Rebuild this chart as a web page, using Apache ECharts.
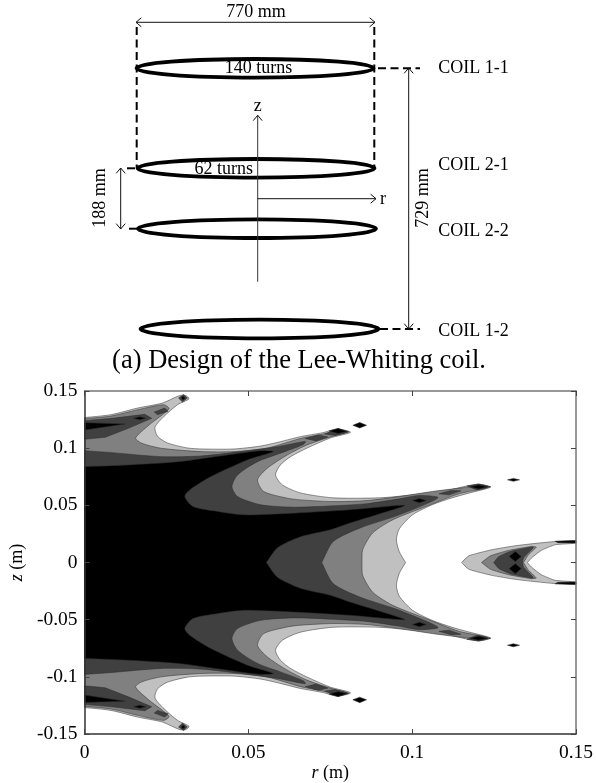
<!DOCTYPE html>
<html>
<head>
<meta charset="utf-8">
<style>html,body{margin:0;padding:0;background:#fff}#c{width:596px;height:783px}</style>
<script src="https://cdn.jsdelivr.net/npm/echarts@6/dist/echarts.min.js"></script>
</head>
<body>
<div id="c"></div>
<script>
// ---- contour plot: outlines of the upper half (z >= 0), values in metres [r, z]
var light_main = [[-.004,.1262],[0,.1268],[.0081,.1293],[.0162,.1351],[.0238,.1395],[.0289,.1459],[.0308,.1462],[.0319,.1432],[.0284,.1380],[.0243,.1279],[.0215,.1183],[.0223,.1104],[.0253,.1046],[.0314,.1002],[.0359,.0993],[.0456,.0993],[.0538,.1019],[.0598,.1057],[.0659,.1101],[.0728,.1136],[.0771,.1168],[.0812,.1139],[.0750,.1089],[.0680,.1002],[.0629,.0926],[.0598,.0854],[.0583,.0766],[.0604,.0679],[.0659,.0609],[.0759,.0566],[.0901,.0566],[.1001,.0592],[.1104,.0629],[.1173,.0673],[.1213,.0682],[.1239,.0659],[.1173,.0607],[.1122,.0566],[.1061,.0505],[.1001,.0417],[.0961,.0295],[.0952,.0199],[.0961,.0094],[.0980,0]];
var mid_main = [[-.004,.1252],[0,.1258],[.0081,.1281],[.0162,.1336],[.0241,.1380],[.0258,.1345],[.0198,.1205],[.0156,.1089],[.0175,.1043],[.0235,.0999],[.0356,.0970],[.0456,.0970],[.0559,.1002],[.0659,.1085],[.0728,.1124],[.0780,.1159],[.0804,.1142],[.0750,.1098],[.0679,.1028],[.0619,.0941],[.0558,.0825],[.0528,.0723],[.0547,.0621],[.0619,.0563],[.0659,.0548],[.0759,.0533],[.0862,.0542],[.0961,.0577],[.1061,.0621],[.1152,.0653],[.1213,.0670],[.1228,.0653],[.1143,.0601],[.1042,.0490],[.0941,.0374],[.0880,.0260],[.0849,.0112],[.0847,0]];
var dark_main = [[-.004,.0985],[0,.0978],[.0084,.0961],[.0235,.0926],[.0356,.0932],[.0477,.0970],[.0588,.1013],[.0674,.1059],[.0668,.1033],[.0598,.0956],[.0528,.0882],[.0467,.0766],[.0450,.0664],[.0467,.0577],[.0538,.0505],[.0638,.0484],[.0759,.0496],[.0862,.0515],[.0961,.0557],[.1022,.0587],[.1079,.0566],[.0961,.0417],[.0840,.0301],[.0759,.0184],[.0724,0]];
var black_main = [[-.004,.0835],[0,.0839],[.0134,.0854],[.0286,.0882],[.0437,.0941],[.0538,.0978],[.0577,.0970],[.0497,.0897],[.0386,.0752],[.0321,.0635],[.0306,.0577],[.0331,.0490],[.0407,.0446],[.0487,.0417],[.0638,.0432],[.0810,.0461],[.0977,.0500],[.0931,.0452],[.0810,.0345],[.0750,.0286],[.0659,.0225],[.0589,.0129],[.0555,0]];
var light_island = [[.1151,0],[.1173,.0059],[.1243,.0112],[.1315,.0147],[.1385,.0170],[.1436,.0184],[.15,.0190],[.15,.0170],[.1436,.0155],[.1394,.0106],[.1364,.0039],[.1352,0]];
var mid_island = [[.1212,0],[.1239,.0059],[.1294,.0106],[.1364,.0141],[.1379,.0135],[.1355,.0068],[.1340,0]];
var dark_island = [[.1249,0],[.1264,.0051],[.1299,.0097],[.1370,.0135],[.1340,.0039],[.1337,0]];
var dark_spike = [[0,.1240],[.0084,.1261],[.0184,.1296],[.0205,.1261],[.0134,.1174],[.0063,.1095],[0,.1078]];
var dark_patches = [
  [[.0213,.1316],[.0245,.1351],[.0255,.1322],[.0223,.1293]],
  [[.0287,.1438],[.0302,.1469],[.0314,.1438],[.0299,.1404]],
  [[.0674,.1085],[.0713,.1116],[.0743,.1098],[.0707,.1063]],
  [[.0734,.1124],[.0774,.1172],[.0807,.1142],[.0765,.1111]],
  [[.1082,.0601],[.1119,.0631],[.1149,.0627],[.1113,.0592]],
  [[.1167,.0670],[.1203,.0688],[.1240,.0662],[.1198,.0635]]
];
var black_patches = [
  [[0,.1223],[.0124,.1212],[0,.1159]],
  [[.0150,.1261],[.0169,.1274],[.0187,.1261],[.0169,.1248]],
  [[.0295,.1438],[.0301,.1456],[.0307,.1438],[.0301,.1421]],
  [[.0746,.1150],[.0774,.1172],[.0801,.1146],[.0774,.1129]],
  [[.1001,.0542],[.1022,.0561],[.1043,.0542],[.1022,.0522]],
  [[.1176,.0662],[.1203,.0679],[.1231,.0662],[.1203,.0644]],
  [[.1296,.0053],[.1315,.0097],[.1333,.0053],[.1315,.0010]],
  [[.1436,.0186],[.15,.0193],[.15,.0170],[.1445,.0173]],
  [[.0819,.1200],[.0840,.1225],[.0861,.1200],[.0840,.1177]],
  [[.1291,.0723],[.1309,.0736],[.1328,.0723],[.1309,.0710]]
];
var shades = {light:'#c0c0c0', mid:'#808080', dark:'#404040', black:'#000000'};

// ---- coil schematic, in the drawing's own units
var coilLabels = ['COIL 1-1','COIL 2-1','COIL 2-2','COIL 1-2'];
var coilR = [255, 256, 257, 259.5];
var coilZ = [68.3, 168.3, 228.7, 329];
var coilLabelZ = [68, 165, 231, 331];
var coilHalfW = [118.5, 118.5, 119, 119];
var coilHalfH = [9.3, 9.3, 9.3, 9.3];
var dashedGuides = [[136.7,27,136.7,168],[374.3,27,374.3,168],[378,68.3,420,68.3],[380,329,420,329],[127,168.3,135,168.3],[129,228.7,137,228.7]];
var arrows = [
  {p:[136,22.3,375,22.3],both:true},
  {p:[408.7,68,408.7,329],both:true},
  {p:[120.7,168,120.7,229],both:true},
  {p:[257.7,281.7,257.7,115.3],both:false,color:'#333'},
  {p:[257.7,198.7,376,198.7],both:false}
];
var diagramText = [
  ['770 mm',256,12.5,0],['140 turns',258.5,68.5,0],['62 turns',223.7,169,0],
  ['z',257.7,106,0],['r',383,199,0],['188 mm',100,198,90],['729 mm',423,198,90]
];
var caption = '(a) Design of the Lee-Whiting coil.';

function flip(path){return path.map(function(p){return [p[0],-p[1]];});}
function closed(path){return path.concat(flip(path).reverse());}

var polys = [];
function add(path,fill,smooth){polys.push({path:path,fill:fill,smooth:smooth});}
add(closed(light_main),shades.light,0.25);
add(closed(mid_main),shades.mid,0.25);
add(dark_spike,shades.dark,0); add(flip(dark_spike),shades.dark,0);
add(closed(dark_main),shades.dark,0.25);
add(closed(light_island),shades.light,0.15);
add(closed(mid_island),shades.mid,0.15);
add(closed(dark_island),shades.dark,0.15);
dark_patches.forEach(function(p){add(p,shades.dark,0);add(flip(p),shades.dark,0);});
add(closed(black_main),shades.black,0.25);
black_patches.forEach(function(p){add(p,shades.black,0);add(flip(p),shades.black,0);});

var font = '"Liberation Serif","Times New Roman",serif';
var chart = echarts.init(document.getElementById('c'),null,{renderer:'canvas'});

function head(from,to,s){
  var a=Math.atan2(to[1]-from[1],to[0]-from[0]),out=[];
  [-0.7,0.7].forEach(function(d){
    out.push({type:'line',shape:{x1:to[0],y1:to[1],x2:to[0]-s*Math.cos(a+d),y2:to[1]-s*Math.sin(a+d)},style:{stroke:'#111',lineWidth:1}});
  });
  return out;
}

var series = [
  {type:'custom',name:'contours',xAxisIndex:0,yAxisIndex:0,clip:true,z:2,
   data:polys.map(function(_,i){return [i];}),
   renderItem:function(params,api){
     var o=polys[params.dataIndex];
     return {type:'polygon',shape:{points:o.path.map(function(p){return api.coord(p);}),smooth:o.smooth},
       style:{fill:o.fill,stroke:'#2a2a2a',lineWidth:0.5}};
   }},
  {type:'custom',name:'coils',xAxisIndex:2,yAxisIndex:2,clip:false,z:3,
   data:coilR.map(function(_,i){return [i];}),
   renderItem:function(params,api){
     var i=params.dataIndex,c=api.coord([coilR[i],coilZ[i]]),s=api.size([coilHalfW[i],coilHalfH[i]]);
     return {type:'ellipse',shape:{cx:c[0],cy:c[1],rx:s[0],ry:s[1]},style:{fill:null,stroke:'#000',lineWidth:3.8}};
   }},
  {type:'custom',name:'guides',xAxisIndex:2,yAxisIndex:2,clip:false,z:3,
   data:dashedGuides.map(function(_,i){return [i];}),
   renderItem:function(params,api){
     var g=dashedGuides[params.dataIndex],a=api.coord([g[0],g[1]]),b=api.coord([g[2],g[3]]);
     return {type:'line',shape:{x1:a[0],y1:a[1],x2:b[0],y2:b[1]},style:{stroke:'#000',lineWidth:2,lineDash:[8,4.5]}};
   }},
  {type:'custom',name:'arrows',xAxisIndex:2,yAxisIndex:2,clip:false,z:4,
   data:arrows.map(function(_,i){return [i];}),
   renderItem:function(params,api){
     var o=arrows[params.dataIndex],a=api.coord([o.p[0],o.p[1]]),b=api.coord([o.p[2],o.p[3]]);
     var kids=[{type:'line',shape:{x1:a[0],y1:a[1],x2:b[0],y2:b[1]},style:{stroke:o.color||'#111',lineWidth:1}}].concat(head(a,b,7));
     if(o.both)kids=kids.concat(head(b,a,7));
     return {type:'group',children:kids};
   }},
  {type:'custom',name:'diagram text',xAxisIndex:2,yAxisIndex:2,clip:false,z:5,
   data:diagramText.map(function(_,i){return [i];}),
   renderItem:function(params,api){
     var t=diagramText[params.dataIndex],c=api.coord([t[1],t[2]]);
     return {type:'text',x:c[0],y:c[1],rotation:t[3]*Math.PI/180,
       style:{text:t[0],fill:'#000',font:'18px '+font,textAlign:'center',textVerticalAlign:'middle'}};
   }},
  {type:'custom',name:'coil labels',xAxisIndex:2,yAxisIndex:2,clip:false,z:5,
   data:coilLabels.map(function(_,i){return [i];}),
   renderItem:function(params,api){
     var i=params.dataIndex,c=api.coord([438.3,coilLabelZ[i]]);
     return {type:'text',x:c[0],y:c[1],
       style:{text:coilLabels[i],fill:'#000',font:'18px '+font,textAlign:'left',textVerticalAlign:'middle'}};
   }},
  {type:'custom',name:'caption',xAxisIndex:2,yAxisIndex:2,clip:false,z:5,
   data:[[0]],
   renderItem:function(params,api){
     var c=api.coord([299,360.7]);
     return {type:'text',x:c[0],y:c[1],
       style:{text:caption,fill:'#000',font:'26.5px '+font,textAlign:'center',textVerticalAlign:'middle'}};
   }}
];

var tick = {show:true,inside:true,length:5,lineStyle:{color:'#444',width:1}};
var label = {color:'#000',fontFamily:font,fontSize:19.5};
var nameStyle = {color:'#000',fontFamily:font,fontSize:18,rich:{i:{fontStyle:'italic',fontFamily:font,fontSize:18,color:'#000'},n:{fontFamily:font,fontSize:18,color:'#000'}}};

chart.setOption({
  animation:false,
  backgroundColor:'#fff',
  grid:[
    {left:82.3,top:391,width:495.7,height:343.7,show:false},
    {left:0,top:0,width:596,height:783,show:false}
  ],
  xAxis:[
    {type:'value',gridIndex:0,min:0,max:0.15,interval:0.05,position:'bottom',z:6,
     axisLine:{onZero:false,lineStyle:{color:'#333',width:1.5}},axisTick:tick,splitLine:{show:false},
     axisLabel:Object.assign({margin:9,showMinLabel:true,showMaxLabel:true},label),
     name:'{i|r}{n| (m)}',nameLocation:'middle',nameGap:27,nameTextStyle:nameStyle},
    {type:'value',gridIndex:0,min:0,max:0.15,interval:0.05,position:'top',z:6,
     axisLine:{onZero:false,lineStyle:{color:'#777',width:1.5}},axisTick:tick,splitLine:{show:false},axisLabel:{show:false}},
    {type:'value',gridIndex:1,min:0,max:596,show:false}
  ],
  yAxis:[
    {type:'value',gridIndex:0,min:-0.15,max:0.15,interval:0.05,position:'left',z:6,
     axisLine:{onZero:false,lineStyle:{color:'#333',width:1.5}},axisTick:tick,splitLine:{show:false},
     axisLabel:Object.assign({margin:7,showMinLabel:true,showMaxLabel:true},label),
     name:'{i|z}{n| (m)}',nameLocation:'middle',nameGap:47,nameRotate:90,nameTextStyle:nameStyle},
    {type:'value',gridIndex:0,min:-0.15,max:0.15,interval:0.05,position:'right',z:6,
     axisLine:{onZero:false,lineStyle:{color:'#777',width:1.5}},axisTick:tick,splitLine:{show:false},axisLabel:{show:false}},
    {type:'value',gridIndex:1,min:0,max:783,inverse:true,show:false}
  ],
  series:series
});
</script>
</body>
</html>
